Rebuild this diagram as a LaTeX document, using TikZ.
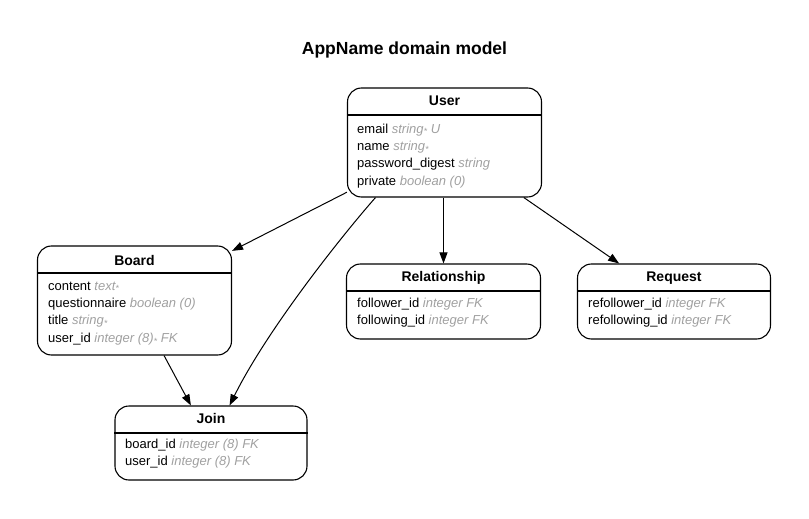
\documentclass[tikz,border=0pt]{standalone}
\usepackage{fontspec}
\setmainfont{Liberation Sans}
\usepackage{xcolor}
\definecolor{typegray}{RGB}{160,160,160}
\usetikzlibrary{arrows.meta,positioning}
\newcommand{\attrtype}[1]{{\color{typegray}\itshape #1}}
\newcommand{\req}{{\fontsize{9pt}{9pt}\selectfont\raisebox{-1.8pt}{*}}}

\begin{document}
\begin{tikzpicture}[
    x=1pt, y=-1pt,
    entity/.style={draw, line width=1.1pt, rounded corners=14pt, inner sep=0pt},
    etitle/.style={anchor=base, font=\fontsize{14pt}{16pt}\selectfont\bfseries, inner sep=0pt},
    attr/.style={anchor=base west, font=\fontsize{13pt}{15pt}\selectfont, inner sep=0pt},
    divider/.style={line width=1.1pt},
    arr/.style={-{Triangle[length=11pt,width=8pt]}, line width=1pt}
  ]
    \useasboundingbox (0,0) rectangle (809,519);

    % Diagram title
    \node[anchor=base, font=\fontsize{17.5pt}{20pt}\selectfont\bfseries] (title) at (404.5,55)
      {AppName domain model};

    % User
    \node[entity, minimum width=194pt, minimum height=109pt] (user) at (444.5,142.5) {};
    \node[etitle] (user-t) at (444.5,106) {User};
    \draw[divider] ([yshift=-27.5pt]user.north west) -- ([yshift=-27.5pt]user.north east);
    \foreach \a [count=\i] in {email \attrtype{string\req\ U}, name \attrtype{string\req},
        password\_digest \attrtype{string}, private \attrtype{boolean (0)}}
      \node[attr] (user-\i) at (357,{133+17.4*(\i-1)}) {\a};

    % Board
    \node[entity, minimum width=194pt, minimum height=109pt] (board) at (134.5,300.5) {};
    \node[etitle] (board-t) at (134.5,265) {Board};
    \draw[divider] ([yshift=-27.5pt]board.north west) -- ([yshift=-27.5pt]board.north east);
    \foreach \a [count=\i] in {content \attrtype{text\req}, questionnaire \attrtype{boolean (0)},
        title \attrtype{string\req}, user\_id \attrtype{integer (8)\req\ FK}}
      \node[attr] (board-\i) at (48,{290+17.4*(\i-1)}) {\a};

    % Relationship
    \node[entity, minimum width=194pt, minimum height=75pt] (rel) at (443.5,301.5) {};
    \node[etitle] (rel-t) at (443.5,281) {Relationship};
    \draw[divider] ([yshift=-27.5pt]rel.north west) -- ([yshift=-27.5pt]rel.north east);
    \foreach \a [count=\i] in {follower\_id \attrtype{integer FK}, following\_id \attrtype{integer FK}}
      \node[attr] (rel-\i) at (357,{307+17.4*(\i-1)}) {\a};

    % Request
    \node[entity, minimum width=193pt, minimum height=75pt] (req) at (674,301.5) {};
    \node[etitle] (req-t) at (674,281) {Request};
    \draw[divider] ([yshift=-27.5pt]req.north west) -- ([yshift=-27.5pt]req.north east);
    \foreach \a [count=\i] in {refollower\_id \attrtype{integer FK}, refollowing\_id \attrtype{integer FK}}
      \node[attr] (req-\i) at (588,{307+17.4*(\i-1)}) {\a};

    % Join
    \node[entity, minimum width=192pt, minimum height=74pt] (join) at (211,443) {};
    \node[etitle] (join-t) at (211,423) {Join};
    \draw[divider] ([yshift=-27.5pt]join.north west) -- ([yshift=-27.5pt]join.north east);
    \foreach \a [count=\i] in {board\_id \attrtype{integer (8) FK}, user\_id \attrtype{integer (8) FK}}
      \node[attr] (join-\i) at (125,{448+17.4*(\i-1)}) {\a};

    % Associations
    \draw[arr] (user) -- (board);
    \draw[arr] (user.south -| rel.north) -- (rel.north);
    \draw[arr] (user) -- (req);
    \draw[arr] (board) -- (join);
    \draw[arr] ([xshift=-69pt]user.south) .. controls (345,232) and (268,328) .. (join);
  \end{tikzpicture}
\end{document}
